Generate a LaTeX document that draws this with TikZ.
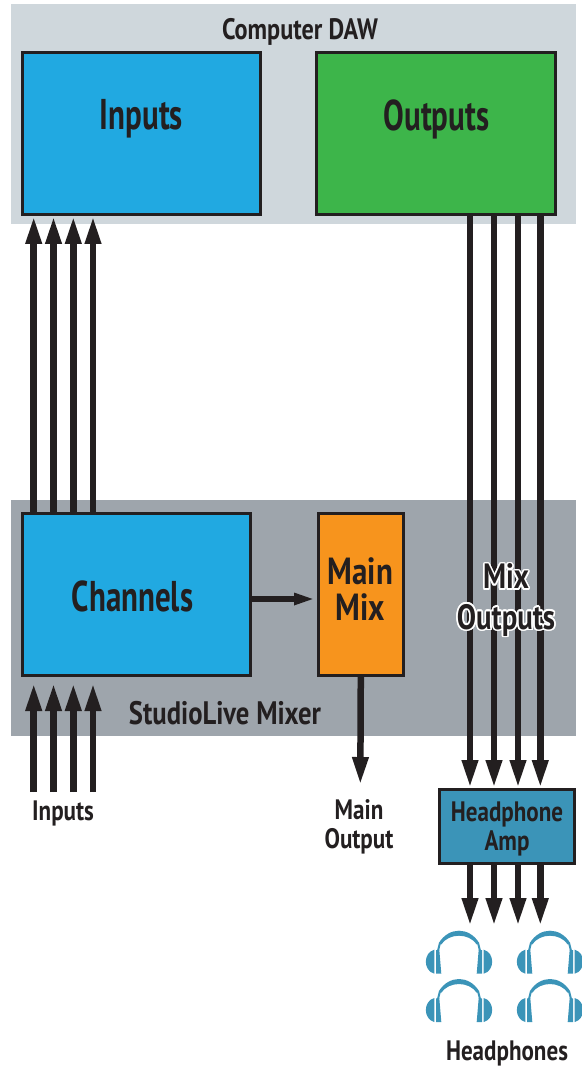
\documentclass[tikz,border=0pt]{standalone}
\usepackage{fontspec}
\usepackage[copies]{contour}
\setmainfont[FakeStretch=0.82,BoldFeatures={FakeStretch=0.82}]{PT Sans}
\newfontfamily\narrowfont[FakeStretch=0.72,BoldFeatures={FakeStretch=0.72}]{PT Sans}
\usetikzlibrary{arrows.meta}
\definecolor{inkdark}{HTML}{231F20}
\definecolor{dawgray}{HTML}{CFD7DC}
\definecolor{mixergray}{HTML}{9EA5AC}
\definecolor{boxblue}{HTML}{21A9E1}
\definecolor{boxgreen}{HTML}{3DB54A}
\definecolor{boxorange}{HTML}{F7941D}
\definecolor{ampblue}{HTML}{3B94B8}
\contourlength{0.9pt}
\begin{document}
\begin{tikzpicture}[
        x=0.02cm, y=-0.02cm,
        panel/.style={inner sep=0pt, minimum width=11.3cm},
        block/.style={draw=inkdark, line width=3*0.02cm, inner sep=0pt, align=center, text=inkdark},
        bigtext/.style={inner sep=0pt, text=inkdark, font=\narrowfont\bfseries\fontsize{24.5}{25}\selectfont},
        tag/.style={inner sep=0pt, align=center, text=inkdark, font=\bfseries\fontsize{16}{16.5}\selectfont},
        arrow/.style={-{Triangle[length=0.56cm,width=0.30cm]}, draw=inkdark, fill=inkdark, line width=0.13cm},
        sidearrow/.style={-{Triangle[length=0.42cm,width=0.22cm]}, draw=inkdark, fill=inkdark, line width=0.13cm},
        headset/.pic={
            \fill[ampblue] (-20,-9) .. controls (-10,-25) and (10,-25) .. (20,-9) -- (18,-7) .. controls (10,-19) and (-10,-19) .. (-18,-7) -- cycle;
            \draw[ampblue, line width=0.04cm] (-21,-1) -- (-19,-9);
            \draw[ampblue, line width=0.04cm] (21,-1) -- (19,-9);
            \fill[ampblue] (-23,-1.5) -- (-19.7,-2) -- (-17.7,22) -- (-23,22) -- cycle;
            \fill[ampblue] (23,-1.5) -- (19.7,-2) -- (17.7,22) -- (23,22) -- cycle;
            \fill[ampblue] (-24.7,-2) .. controls (-36,1) and (-36,19) .. (-24.7,22) -- cycle;
            \fill[ampblue] (24.7,-2) .. controls (36,1) and (36,19) .. (24.7,22) -- cycle;
        }
        ]
        \useasboundingbox (0,0) rectangle (582,1066);
        
        \node[panel, fill=dawgray, minimum height=4.4cm] (daw) at (293.5,114) {};
        \node[panel, fill=mixergray, minimum height=4.72cm] (mixer) at (293.5,618) {};
        
        \node[block, fill=boxblue, minimum width=4.77cm, minimum height=3.25cm] (inputs) at (141.25,133.25) {};
        \node[block, fill=boxgreen, minimum width=4.77cm, minimum height=3.25cm] (outputs) at (436,133.25) {};
        \node[block, fill=boxblue, minimum width=4.57cm, minimum height=3.24cm] (channels) at (136.25,594.6) {};
        \node[block, fill=boxorange, minimum width=1.69cm, minimum height=3.24cm] (mainmix) at (360.8,594.6) {};
        \node[block, fill=ampblue, minimum width=2.71cm, minimum height=1.47cm] (amp) at (507.25,826.25) {};
        
        \foreach \i/\x in {1/33.7,2/53.5,3/73.3,4/93}{
            \coordinate (send\i) at (\x,500);
            \coordinate (feed\i) at (\x,792);
            \draw[arrow] (send\i |- channels.north) -- (send\i |- inputs.south);
            \draw[arrow] (feed\i) -- (\x,683);
        }
        \foreach \i/\x in {1/470,2/494,3/518,4/540.3}{
            \coordinate (out\i) at (\x,300);
            \coordinate (phones\i) at (\x,926);
            \draw[arrow] (out\i |- outputs.south) -- (out\i |- amp.north);
            \draw[arrow] (out\i |- amp.south) -- (phones\i);
        }
        \coordinate (mixin) at (315,599);
        \coordinate (mainend) at (360.3,785);
        \draw[sidearrow] (channels.east |- mixin) -- (mixin);
        \draw[arrow] (mainmix.south) -- (mainend);
        
        \foreach \x/\y in {459/951.7,550/951.7,459/1000,550/1000}{
            \pic at (\x,\y) {headset};
        }
        
        \node[tag, font=\bfseries\fontsize{16.8}{17}\selectfont] (dawname) at (300,32) {Computer DAW};
        \node[bigtext] (inputsname) at (141.5,119) {Inputs};
        \node[bigtext] (outputsname) at (436.5,119) {Outputs};
        \node[bigtext] (channelsname) at (132.5,596) {Channels};
        \node[inner sep=0pt, align=center, text=inkdark, font=\bfseries\fontsize{21.5}{20.5}\selectfont] (mainmixname) at (360.5,589) {Main\\Mix};
        \node[tag] (ampname) at (507,829) {Headphone\\Amp};
        \node[tag, font=\bfseries\fontsize{18.5}{19}\selectfont] (mixername) at (225,713) {StudioLive Mixer};
        \node[tag] (inputsfeed) at (63,813) {Inputs};
        \node[tag] (mainout) at (359,827) {Main\\Output};
        \node[tag] (phonesname) at (507,1053) {Headphones};
        \node[inner sep=0pt, align=center, text=inkdark, font=\bfseries\fontsize{20}{23}\selectfont] (mixout) at (506,601) {\contour{white}{Mix}\\\contour{white}{Outputs}};
    \end{tikzpicture}
\end{document}
